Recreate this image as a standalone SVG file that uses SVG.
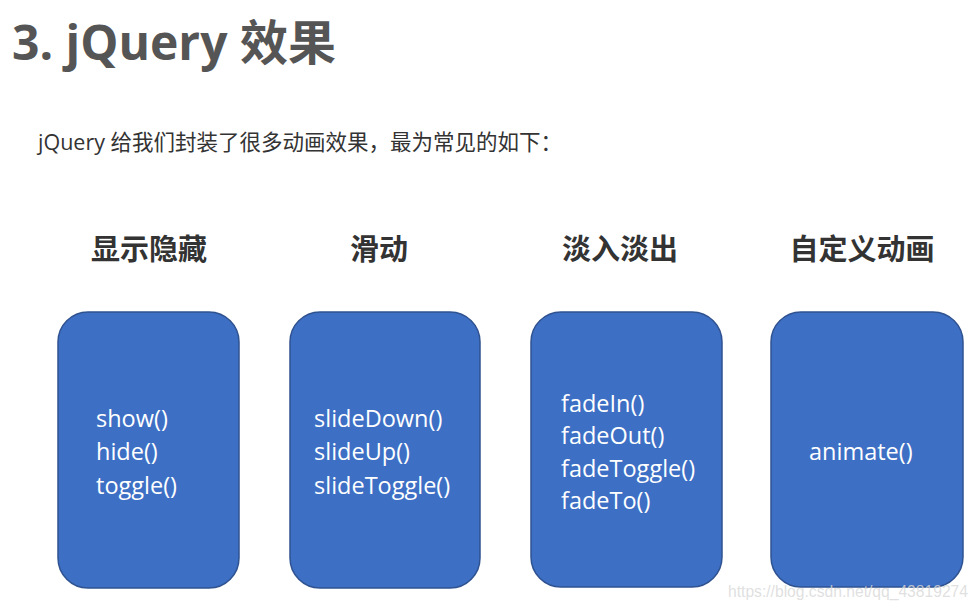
<svg xmlns="http://www.w3.org/2000/svg" width="980" height="610" viewBox="0 0 980 610">
<style>
.title{font-family:"Open Sans","Noto Sans CJK SC",sans-serif;font-weight:bold;font-size:48px;fill:#555555}
.sub{font-family:"Open Sans","Noto Sans CJK SC",sans-serif;font-size:21.5px;fill:#333333}
.head{font-family:"Noto Sans CJK SC",sans-serif;font-weight:bold;font-size:29px;fill:#333333;text-anchor:middle}
.box{fill:#3D6FC5;stroke:#2F5290;stroke-width:1.5}
.item{font-family:"Open Sans","Noto Sans",sans-serif;font-size:23.5px;fill:#ffffff}
.wm{font-family:"Liberation Sans",sans-serif;font-size:16px;fill:#d8d8d8;fill-opacity:0.8}
</style>
<rect width="980" height="610" fill="#ffffff"/>
<text class="title" x="12" y="60">3. jQuery 效果</text>
<text class="sub" x="38" y="150">jQuery 给我们封装了很多动画效果，最为常见的如下：</text>
<g id="n1">
<text class="head" x="149" y="260">显示隐藏</text>
<rect class="box" x="58" y="312" width="181" height="276" rx="30"/>
<text class="item" x="96" y="427">show()</text>
<text class="item" x="96" y="460">hide()</text>
<text class="item" x="96" y="494">toggle()</text>
</g>
<g id="n2">
<text class="head" x="379" y="260">滑动</text>
<rect class="box" x="290" y="312" width="190" height="276" rx="30"/>
<text class="item" x="314" y="427">slideDown()</text>
<text class="item" x="314" y="460">slideUp()</text>
<text class="item" x="314" y="494">slideToggle()</text>
</g>
<g id="n3">
<text class="head" x="620" y="260">淡入淡出</text>
<rect class="box" x="531" y="312" width="191" height="275" rx="30"/>
<text class="item" x="561" y="412">fadeIn()</text>
<text class="item" x="561" y="444">fadeOut()</text>
<text class="item" x="561" y="477">fadeToggle()</text>
<text class="item" x="561" y="509">fadeTo()</text>
</g>
<g id="n4">
<text class="head" x="862" y="260">自定义动画</text>
<rect class="box" x="771" y="312" width="192" height="275" rx="30"/>
<text class="item" x="809" y="460">animate()</text>
</g>
<g id="connectors"></g>
<text class="wm" x="728" y="597" textLength="240" lengthAdjust="spacingAndGlyphs">https://blog.csdn.net/qq_43819274</text>
</svg>
